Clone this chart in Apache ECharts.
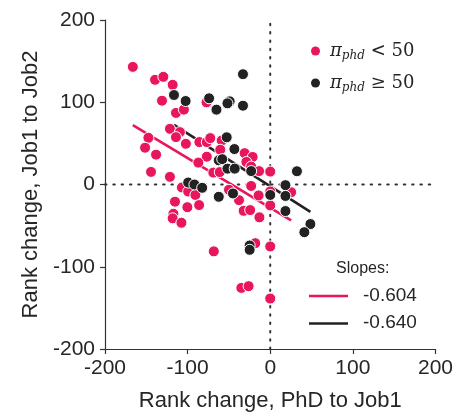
<!DOCTYPE html>
<html>
<head>
<meta charset="utf-8">
<script src="https://cdn.jsdelivr.net/npm/echarts@6/dist/echarts.min.js"></script>
<style>
html,body{margin:0;padding:0;background:#fff;}
#chart{width:456px;height:417px;}
</style>
</head>
<body>
<div id="chart"></div>
<script>
// x = Rank change, PhD to Job1 ; y = Rank change, Job1 to Job2
const pinkX = [-166.3,-139.4,-129.4,-118.1,-131.0,-114.1,-104.5,-77.1,-121.4,-109.3,-114.1,-147.5,-151.5,-138.2,-102.1,-85.8,-76.8,-72.6,-58.7,-60.5,-76.8,-87.0,-31.0,-21.3,-28.9,-23.1,-68.9,-61.1,-13.5,0,-144.3,-121.4,-106.9,-99.3,-90.6,-115.3,-100.3,-86.1,-117.2,-118.1,-107.5,-49.9,-37.8,-23.1,-14.1,-32.2,-24.3,-13.1,0,0,25.3,-18.1,0,-68.3,-35.0,-26.2,0];
const pinkY = [143.0,127.3,130.9,121.2,101.9,87.0,91.0,99.9,67.7,63.7,57.6,56.8,44.7,36.3,49.5,51.6,51.6,56.4,53.5,42.3,33.8,26.6,38.1,33.5,27.4,21.8,14.5,15.1,16.3,15.7,15.3,9.3,-3.6,-8.5,-12.7,-20.9,-27.6,-25.0,-35.6,-41.1,-46.5,-6.4,-19.0,-1.8,-13.3,-32.0,-31.1,-39.9,-8.5,-25.4,-9.4,-71.3,-75.3,-81.3,-125.7,-123.6,-138.6];
const blackX = [-116.5,-102.4,-74.0,-65.1,-49.1,-51.8,-33.0,-33.0,-52.7,-43.4,-62.3,-58.1,-51.8,-43.0,-23.1,32.3,-99.3,-91.8,-82.4,-62.3,-45.1,0,18.4,18.4,18.4,48.6,41.3,-24.9,-24.9];
const blackY = [108.8,101.5,104.8,91.0,101.1,98.7,95.8,134.1,57.4,43.1,29.4,30.8,19.3,19.3,16.3,16.1,2.4,0,-4.0,-14.9,-10.9,-12.7,-0.8,-13.9,-32.3,-48.1,-58.0,-74.1,-79.4];
const slopes = [-0.604, -0.640];
const intercepts = [-28.3, -2.1];
const fitRangeX = [[-166.3, 25.3], [-116.5, 48.6]];
const xTicks = [-200,-100,0,100,200];
const yTicks = [-200,-100,0,100,200];
const slopeLabels = ['-0.604', '-0.640'];

const PINK = '#E8175D', DARK = '#222222', TXT = '#262626';

function pts(xs, ys){ return xs.map((x,i)=>[x, ys[i]]); }
function fit(k){ return fitRangeX[k].map(x=>[x, intercepts[k] + slopes[k]*x]); }

const chart = echarts.init(document.getElementById('chart'), null, {renderer:'canvas'});
const rich = {
  pi:{fontFamily:'DejaVu Serif', fontStyle:'italic', fontSize:18, color:TXT, lineHeight:22},
  sub:{fontFamily:'DejaVu Serif', fontStyle:'italic', fontSize:12, color:TXT, padding:[10,0,0,0], lineHeight:12},
  op:{fontFamily:'DejaVu Serif', fontSize:18, color:TXT, lineHeight:22}
};
chart.setOption({
  animation:false,
  backgroundColor:'#fff',
  textStyle:{fontFamily:'Liberation Sans, Arial, sans-serif'},
  grid:{left:105, right:19, top:20, bottom:64, containLabel:false},
  legend:{
    orient:'vertical', left:306, top:35, itemGap:10,
    icon:'circle', itemWidth:9, itemHeight:9,
    itemStyle:{borderWidth:0},
    data:['lt','ge'],
    formatter:function(n){ return n==='lt' ? '{pi|π}{sub|phd}{op| < 50}' : '{pi|π}{sub|phd}{op| ≥ 50}'; },
    textStyle:{rich:rich, padding:[0,0,0,5]}
  },
  xAxis:{
    type:'value', min:-200, max:200, interval:100,
    name:'Rank change, PhD to Job1', nameLocation:'middle', nameGap:41,
    nameTextStyle:{fontSize:22, color:TXT, fontFamily:'Liberation Sans'},
    axisLine:{onZero:false, lineStyle:{color:'#333', width:1.2}},
    axisTick:{show:true, inside:false, length:5, lineStyle:{color:'#333', width:1.2}},
    axisLabel:{fontSize:21, color:TXT, margin:9, fontFamily:'Liberation Sans',
      formatter:v=> xTicks.includes(v) ? String(v) : ''},
    splitLine:{show:false}
  },
  yAxis:{
    type:'value', min:-200, max:200, interval:100,
    name:'Rank change, Job1 to Job2', nameLocation:'middle', nameGap:59, nameRotate:90,
    nameTextStyle:{fontSize:22, color:TXT, fontFamily:'Liberation Sans'},
    axisLine:{show:true, onZero:false, lineStyle:{color:'#333', width:1.2}},
    axisTick:{show:true, inside:false, length:5, lineStyle:{color:'#333', width:1.2}},
    axisLabel:{fontSize:21, color:TXT, margin:10, fontFamily:'Liberation Sans',
      formatter:v=> yTicks.includes(v) ? String(v) : ''},
    splitLine:{show:false}
  },
  series:[
    {type:'line', data:[[0,-200],[0,200]], symbol:'none', silent:true, z:1,
      lineStyle:{color:'#333', width:2, type:[1.5,6.8], cap:'round'}},
    {type:'line', data:[[-200,0],[200,0]], symbol:'none', silent:true, z:1,
      lineStyle:{color:'#333', width:2, type:[1.5,6.8], cap:'round'}},
    {type:'line', data:fit(0), symbol:'none', silent:true, z:2,
      lineStyle:{color:PINK, width:2.6}},
    {type:'line', data:fit(1), symbol:'none', silent:true, z:2,
      lineStyle:{color:DARK, width:2.6}},
    {name:'lt', type:'scatter', data:pts(pinkX,pinkY), symbolSize:11, z:3,
      itemStyle:{color:PINK, borderColor:'#fff', borderWidth:1, opacity:1}},
    {name:'ge', type:'scatter', data:pts(blackX,blackY), symbolSize:11, z:4,
      itemStyle:{color:DARK, borderColor:'#fff', borderWidth:1, opacity:1}}
  ],
  graphic:[
    {type:'text', left:336, top:261, style:{text:'Slopes:', fontSize:16, fill:TXT, fontFamily:'Liberation Sans'}},
    {type:'line', shape:{x1:309, y1:296, x2:348, y2:296}, style:{stroke:PINK, lineWidth:2.6}},
    {type:'text', left:363, top:286, style:{text:slopeLabels[0], fontSize:19, fill:TXT, fontFamily:'Liberation Sans'}},
    {type:'line', shape:{x1:309, y1:323.5, x2:348, y2:323.5}, style:{stroke:DARK, lineWidth:2.6}},
    {type:'text', left:363, top:313, style:{text:slopeLabels[1], fontSize:19, fill:TXT, fontFamily:'Liberation Sans'}}
  ]
});
</script>
</body>
</html>
